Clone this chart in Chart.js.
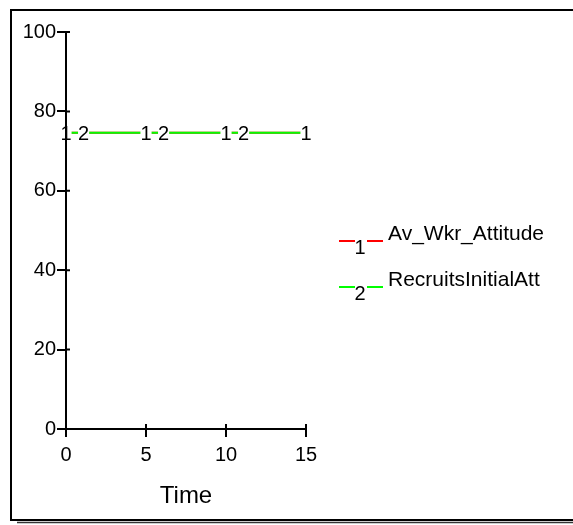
<!DOCTYPE html>
<html>
<head>
<meta charset="utf-8">
<script src="https://cdn.jsdelivr.net/npm/chart.js@4.4.1/dist/chart.umd.min.js"></script>
<style>
html,body{margin:0;padding:0;background:#fff;}
canvas{display:block;}
</style>
</head>
<body>
<canvas id="c" width="573" height="525"></canvas>
<script>
const FONT = '"Liberation Sans", Arial, sans-serif';

// data
const times = [0, 5, 10, 15];
const avWkrAttitude = [74.6, 74.6, 74.6, 74.6];
const recruitsInitialAtt = [74.6, 74.6, 74.6, 74.6];
const seriesNames = ['Av_Wkr_Attitude', 'RecruitsInitialAtt'];
const seriesNums = ['1', '2'];
const seriesColors = ['#ff0000', '#00ff00'];
const markers1 = [0, 5, 10, 15];
const markers2 = [1.1, 6.1, 11.1];
const xTicks = [0, 5, 10, 15];
const yTicks = [0, 20, 40, 60, 80, 100];

const toPts = vals => times.map((t, i) => ({x: t, y: vals[i]}));

function valueAt(data, t) {
  for (let i = 0; i < data.length - 1; i++) {
    if (t >= data[i].x && t <= data[i + 1].x) {
      const f = (t - data[i].x) / (data[i + 1].x - data[i].x);
      return data[i].y + f * (data[i + 1].y - data[i].y);
    }
  }
  return data[data.length - 1].y;
}

// outer frame with the little shadow at the bottom
const framePlugin = {
  id: 'frame',
  beforeDraw(chart) {
    const ctx = chart.ctx;
    ctx.save();
    ctx.fillStyle = '#fff';
    ctx.fillRect(0, 0, chart.width, chart.height);
    ctx.strokeStyle = '#000';
    ctx.lineWidth = 2;
    ctx.beginPath();
    ctx.moveTo(573, 10);
    ctx.lineTo(11, 10);
    ctx.lineTo(11, 520);
    ctx.lineTo(573, 520);
    ctx.stroke();
    ctx.strokeStyle = '#333';
    ctx.lineWidth = 1.5;
    ctx.beginPath();
    ctx.moveTo(17, 522.5);
    ctx.lineTo(573, 522.5);
    ctx.stroke();
    ctx.restore();
  }
};

// tick marks poke a little into the plot area
const innerTicks = {
  id: 'innerTicks',
  afterDraw(chart) {
    const {ctx, scales: {x, y}} = chart;
    ctx.save();
    ctx.strokeStyle = '#000';
    ctx.lineWidth = 2;
    ctx.beginPath();
    yTicks.forEach(v => {
      const py = y.getPixelForValue(v);
      ctx.moveTo(x.left, py); ctx.lineTo(x.left + 4, py);
    });
    xTicks.forEach(v => {
      const px = x.getPixelForValue(v);
      ctx.moveTo(px, y.bottom); ctx.lineTo(px, y.bottom - 5);
    });
    ctx.stroke();
    ctx.restore();
  }
};

// numbered labels sitting on the lines
const markerPlugin = {
  id: 'markers',
  afterDatasetsDraw(chart) {
    const {ctx, chartArea, scales: {x, y}} = chart;
    ctx.save();
    ctx.font = '20px ' + FONT;
    ctx.textAlign = 'center';
    ctx.textBaseline = 'middle';
    chart.data.datasets.slice().reverse().forEach(ds => {
      ds.markers.forEach(t => {
        const px = x.getPixelForValue(t);
        const py = y.getPixelForValue(valueAt(ds.data, t));
        const w = ctx.measureText(ds.num).width;
        const l = Math.max(px - w / 2, chartArea.left + 1);
        ctx.fillStyle = '#fff';
        ctx.fillRect(l, py - 3, px + w / 2 - l, 6);
        ctx.fillStyle = '#000';
        ctx.fillText(ds.num, px, py + 2);
      });
    });
    ctx.restore();
  }
};

const sideLegend = {
  id: 'sideLegend',
  afterDraw(chart) {
    const ctx = chart.ctx;
    ctx.save();
    chart.data.datasets.slice().sort((a, b) => a.num.localeCompare(b.num)).forEach((ds, i) => {
      const ly = 241 + i * 46;
      ctx.strokeStyle = ds.borderColor;
      ctx.lineWidth = 2;
      ctx.beginPath();
      ctx.moveTo(339, ly); ctx.lineTo(355, ly);
      ctx.moveTo(367, ly); ctx.lineTo(383, ly);
      ctx.stroke();
      ctx.fillStyle = '#000';
      ctx.textBaseline = 'middle';
      ctx.textAlign = 'center';
      ctx.font = '20px ' + FONT;
      ctx.fillText(ds.num, 360, ly + 7);
      ctx.textAlign = 'left';
      ctx.font = '21px ' + FONT;
      ctx.fillText(ds.label, 388, ly - 7);
    });
    ctx.restore();
  }
};

new Chart(document.getElementById('c'), {
  type: 'line',
  data: {
    datasets: [{
      label: seriesNames[0], num: seriesNums[0], markers: markers1,
      data: toPts(avWkrAttitude),
      borderColor: seriesColors[0], borderWidth: 2, pointRadius: 0, order: 1
    }, {
      label: seriesNames[1], num: seriesNums[1], markers: markers2,
      data: toPts(recruitsInitialAtt),
      borderColor: seriesColors[1], borderWidth: 2, pointRadius: 0, order: 0
    }]
  },
  options: {
    responsive: false,
    animation: false,
    devicePixelRatio: 1,
    layout: {padding: {left: 0, top: 32, right: 267, bottom: 0}},
    plugins: {legend: {display: false}, tooltip: {enabled: false}},
    scales: {
      x: {
        type: 'linear', min: 0, max: 15,
        afterBuildTicks: s => { s.ticks = xTicks.map(v => ({value: v})); },
        afterFit: s => { s.height = 96; },
        border: {display: true, color: '#000', width: 2},
        grid: {drawOnChartArea: false, drawTicks: true, tickLength: 8, color: '#000', lineWidth: 2},
        ticks: {color: '#000', padding: 6, maxRotation: 0, font: {family: FONT, size: 20}},
        title: {display: true, text: 'Time', color: '#000', font: {family: FONT, size: 24}, padding: {top: 0, bottom: 14}}
      },
      y: {
        type: 'linear', min: 0, max: 100,
        afterBuildTicks: s => { s.ticks = yTicks.map(v => ({value: v})); },
        afterFit: s => { s.width = 66; },
        border: {display: true, color: '#000', width: 2},
        grid: {drawOnChartArea: false, drawTicks: true, tickLength: 9, color: '#000', lineWidth: 2},
        ticks: {color: '#000', padding: 1, font: {family: FONT, size: 20}}
      }
    }
  },
  plugins: [framePlugin, innerTicks, markerPlugin, sideLegend]
});
</script>
</body>
</html>
